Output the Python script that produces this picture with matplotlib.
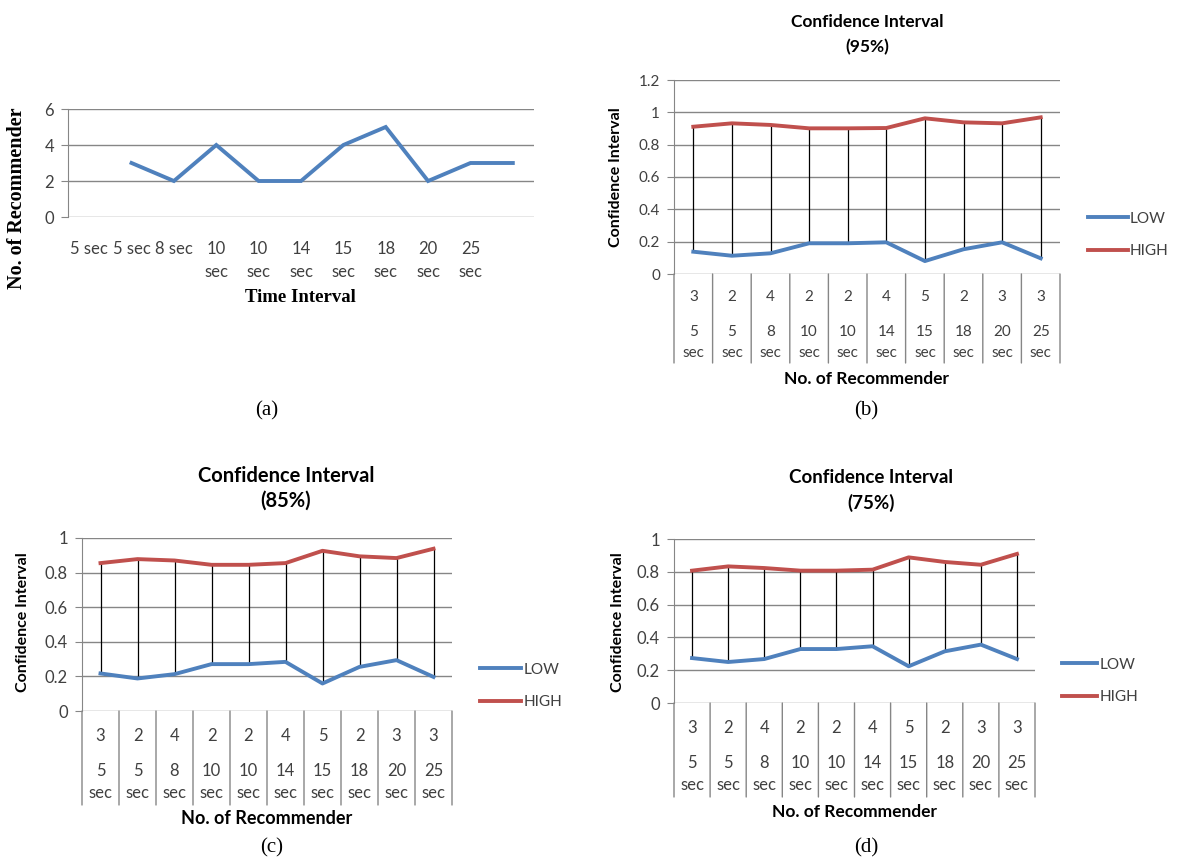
import numpy as np
import matplotlib
matplotlib.use('Agg')
import matplotlib.pyplot as plt
from matplotlib.ticker import FuncFormatter

W, H = 1177, 859
AZUL = '#4F81BD'
ROJO = '#C0504D'
GRIS = '#868686'
TEXTO = '#404040'

# ---------------- datos ----------------
# (a) numero de recomendadores vs intervalo de tiempo
etiquetas_a = ['5 sec', '5 sec', '8 sec', '10\nsec', '10\nsec', '14\nsec',
               '15\nsec', '18\nsec', '20\nsec', '25\nsec']
recomendadores = [3, 2, 4, 2, 2, 4, 5, 2, 3, 3]

# (b)-(d) categorias de dos niveles
num_rec = ['3', '2', '4', '2', '2', '4', '5', '2', '3', '3']
tiempos = ['5', '5', '8', '10', '10', '14', '15', '18', '20', '25']

low_95 = [0.138, 0.113, 0.128, 0.190, 0.190, 0.196, 0.080, 0.153, 0.196, 0.097]
high_95 = [0.911, 0.932, 0.922, 0.901, 0.901, 0.903, 0.963, 0.938, 0.932, 0.969]

low_85 = [0.217, 0.188, 0.213, 0.271, 0.271, 0.284, 0.159, 0.255, 0.294, 0.197]
high_85 = [0.855, 0.878, 0.870, 0.845, 0.845, 0.855, 0.926, 0.894, 0.884, 0.938]

low_75 = [0.274, 0.250, 0.268, 0.329, 0.329, 0.346, 0.224, 0.315, 0.356, 0.268]
high_75 = [0.807, 0.833, 0.823, 0.807, 0.807, 0.813, 0.888, 0.860, 0.843, 0.909]

plt.rcParams['font.family'] = ['Lato', 'DejaVu Sans']

fig = plt.figure(figsize=(W / 100, H / 100), dpi=100)


def caja(l, r, t, b):
    # ejes a partir de pixeles de la imagen
    return fig.add_axes([l / W, 1 - b / H, (r - l) / W, (b - t) / H])


def estilo_ejes(ax, yticks, fs):
    ax.set_yticks(yticks)
    ax.yaxis.set_major_formatter(FuncFormatter(lambda v, p: '%g' % round(v, 2)))
    ax.set_ylim(yticks[0], yticks[-1])
    for y in yticks:
        ax.axhline(y, color=GRIS, lw=1, zorder=0)
    for s in ['top', 'right', 'bottom']:
        ax.spines[s].set_visible(False)
    ax.spines['left'].set_color(GRIS)
    ax.tick_params(axis='y', length=5, color=GRIS, labelsize=fs, labelcolor=TEXTO, pad=5)


def fig_text(x, y, s, **kw):
    fig.text(x / W, 1 - y / H, s, **kw)


# ---------------- (a) ----------------
ax = caja(68, 534, 109, 217)
estilo_ejes(ax, [0, 2, 4, 6], 12)
x_a = np.arange(1, len(recomendadores) + 1)
ax.plot(x_a, recomendadores, color=AZUL, lw=2.8, solid_joinstyle='miter')
ax.set_xlim(-0.5, 10.5)
ax.set_xticks(np.arange(len(etiquetas_a)))
ax.set_xticklabels(etiquetas_a, linespacing=1.6, va='top')
ax.tick_params(axis='x', length=0, labelsize=12, labelcolor=TEXTO, pad=17)
fig_text(17, 198, 'No. of Recommender', rotation=90, ha='center', va='center',
         family='Liberation Serif', fontweight='bold', fontsize=14.5)
fig_text(300, 297, 'Time Interval', ha='center', va='center',
         family='Liberation Serif', fontweight='bold', fontsize=13.5)


def panel_ic(caja_px, low, high, yticks, pct, cx_t, y_t, ylab, leg, offs, tam):
    fs, fs_t, fs_y, fs_x = tam
    l, r, t, b = caja_px
    ax = caja(l, r, t, b)
    estilo_ejes(ax, yticks, fs)
    x = np.arange(len(low))
    ax.set_xlim(-0.5, len(low) - 0.5)
    ax.set_xticks([])
    ax.vlines(x, low, high, color='black', lw=0.9, zorder=2)
    l1, = ax.plot(x, low, color=AZUL, lw=2.8, zorder=3, label='LOW')
    l2, = ax.plot(x, high, color=ROJO, lw=2.8, zorder=3, label='HIGH')
    o1, o2, o3, sep, oxl = offs
    for i in x:
        for txt, o in [(num_rec[i], o1), (tiempos[i], o2), ('sec', o3)]:
            ax.annotate(txt, xy=(i, 0), xytext=(0, -o), textcoords='offset pixels',
                        ha='center', va='center', fontsize=fs, color=TEXTO,
                        annotation_clip=False)
    for xs in np.arange(-0.5, len(low), 1.0):
        ax.annotate('', xy=(xs, 0), xytext=(xs, -sep), textcoords=('data', 'offset pixels'),
                    arrowprops=dict(arrowstyle='-', color=GRIS, lw=1, shrinkA=0, shrinkB=0),
                    annotation_clip=False)
    ax.annotate('No. of Recommender', xy=(0.5, 0), xycoords='axes fraction',
                xytext=(0, -oxl), textcoords='offset pixels', ha='center', va='center',
                fontsize=fs_x, fontweight='bold', color='black', annotation_clip=False)
    fig_text(cx_t, y_t, 'Confidence Interval', ha='center', va='center',
             fontsize=fs_t, fontweight='bold')
    fig_text(cx_t, y_t + 25, pct, ha='center', va='center', fontsize=fs_t, fontweight='bold')
    fig_text(ylab[0], ylab[1], 'Confidence Interval', rotation=90, ha='center', va='center',
             fontsize=fs_y, fontweight='bold')
    lx, ly, hl = leg
    ax.legend(handles=[l1, l2], loc='center left', bbox_to_anchor=(lx / W, 1 - ly / H),
              bbox_transform=fig.transFigure, frameon=False, fontsize=11,
              handlelength=hl, handletextpad=0.15, labelspacing=1.2,
              borderpad=0, borderaxespad=0, labelcolor=TEXTO)
    return ax


panel_ic((674, 1060, 80, 274), low_95, high_95, [0, 0.2, 0.4, 0.6, 0.8, 1.0, 1.2],
         '(95%)', 867, 22, (616, 177), (1088, 235, 2.6),
         (23, 58, 79, 89, 105), (11, 12.5, 11.5, 12.5))
panel_ic((82, 452, 538, 711), low_85, high_85, [0, 0.2, 0.4, 0.6, 0.8, 1.0],
         '(85%)', 286, 476, (23, 622), (480, 686, 2.7),
         (25, 60, 82, 94, 108), (12, 14.5, 11.5, 13))
panel_ic((674, 1035, 539, 703), low_75, high_75, [0, 0.2, 0.4, 0.6, 0.8, 1.0],
         '(75%)', 871, 478, (618, 622), (1062, 681, 2.3),
         (25, 60, 82, 94, 109), (12, 13.5, 11.5, 12.5))

# ---------------- rotulos ----------------
for cx, cy, s in [(267, 411, '(a)'), (866, 411, '(b)'), (272, 848, '(c)'), (866, 848, '(d)')]:
    fig_text(cx, cy, s, ha='center', va='center', family='Liberation Serif', fontsize=15)

fig.savefig('out.png', dpi=100)
